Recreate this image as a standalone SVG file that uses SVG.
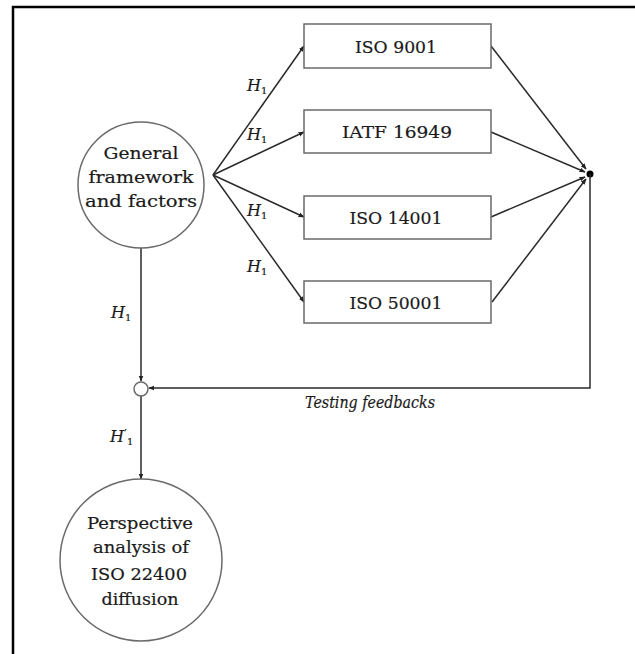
<svg xmlns="http://www.w3.org/2000/svg" width="635" height="654" viewBox="0 0 635 654">
<style>
.frame{stroke:#000;stroke-width:2.5;fill:none}
.node{fill:#fff;stroke:#6a6a6a;stroke-width:1.5}
.lbl{font-family:"DejaVu Serif","Liberation Serif",serif;font-size:17.5px;fill:#1a1a1a;stroke:#1a1a1a;stroke-width:0.2;text-anchor:middle}
.h{font-family:"DejaVu Serif","Liberation Serif",serif;font-style:italic;font-size:16px;fill:#1a1a1a;stroke:#1a1a1a;stroke-width:0.2}
.sub{font-size:10px;font-style:normal}
.pr{font-size:13px;font-style:normal}
.con{stroke:#2a2a2a;stroke-width:1.5;fill:none}
.ar{marker-end:url(#ah)}
</style>
<defs>
<marker id="ah" viewBox="0 0 10 10" refX="9" refY="5" markerWidth="6" markerHeight="6" orient="auto" markerUnits="userSpaceOnUse">
<path d="M0,1 L10,5 L0,9 z" fill="#222"/>
</marker>
</defs>
<rect width="635" height="654" fill="#fff"/>
<path class="frame" d="M13,654 V7 H635"/>
<g id="connectors">
<line class="con ar" x1="213" y1="175" x2="304" y2="46"/>
<line class="con ar" x1="213" y1="175" x2="304" y2="132"/>
<line class="con ar" x1="213" y1="175" x2="304" y2="217"/>
<line class="con ar" x1="213" y1="175" x2="304" y2="302"/>
<line class="con ar" x1="491" y1="46" x2="586" y2="169"/>
<line class="con ar" x1="491" y1="132" x2="585" y2="172"/>
<line class="con ar" x1="491" y1="217" x2="585" y2="177"/>
<line class="con ar" x1="492" y1="302" x2="586" y2="179"/>
<circle cx="590" cy="174" r="3.5" fill="#000"/>
<path class="con ar" d="M590,174 V388 H149"/>
<line class="con ar" x1="141" y1="248" x2="141" y2="381"/>
<line class="con ar" x1="141" y1="396" x2="141" y2="479"/>
<text class="h" x="247" y="91">H<tspan class="sub" dy="3">1</tspan></text>
<text class="h" x="247" y="140">H<tspan class="sub" dy="3">1</tspan></text>
<text class="h" x="247" y="216">H<tspan class="sub" dy="3">1</tspan></text>
<text class="h" x="247" y="272">H<tspan class="sub" dy="3">1</tspan></text>
<text class="h" x="111" y="318">H<tspan class="sub" dy="3">1</tspan></text>
<text class="h" x="110" y="442">H<tspan class="pr" dy="-3">′</tspan><tspan class="sub" dy="6">1</tspan></text>
<text class="h" x="305" y="408" font-size="13" textLength="130" lengthAdjust="spacingAndGlyphs">Testing feedbacks</text>
</g>
<g id="general">
<circle class="node" cx="141" cy="185" r="63"/>
<text class="lbl" x="141" y="159" textLength="75" lengthAdjust="spacingAndGlyphs">General</text>
<text class="lbl" x="141" y="183" textLength="105" lengthAdjust="spacingAndGlyphs">framework</text>
<text class="lbl" x="141" y="207" textLength="112" lengthAdjust="spacingAndGlyphs">and factors</text>
</g>
<g id="iso9001">
<rect class="node" x="304" y="24" width="187" height="44"/>
<text class="lbl" x="396" y="53" textLength="82" lengthAdjust="spacingAndGlyphs">ISO 9001</text>
</g>
<g id="iatf16949">
<rect class="node" x="304" y="110" width="187" height="43"/>
<text class="lbl" x="397" y="138" textLength="110" lengthAdjust="spacingAndGlyphs">IATF 16949</text>
</g>
<g id="iso14001">
<rect class="node" x="304" y="196" width="187" height="43"/>
<text class="lbl" x="396" y="224" textLength="93" lengthAdjust="spacingAndGlyphs">ISO 14001</text>
</g>
<g id="iso50001">
<rect class="node" x="304" y="281" width="187" height="42"/>
<text class="lbl" x="396" y="309" textLength="93" lengthAdjust="spacingAndGlyphs">ISO 50001</text>
</g>
<g id="junction">
<circle class="node" cx="141" cy="389" r="7" stroke="#333"/>
</g>
<g id="perspective">
<circle class="node" cx="141" cy="560" r="81"/>
<text class="lbl" x="140" y="529" textLength="106" lengthAdjust="spacingAndGlyphs">Perspective</text>
<text class="lbl" x="141" y="553" textLength="96" lengthAdjust="spacingAndGlyphs">analysis of</text>
<text class="lbl" x="139" y="580" textLength="96" lengthAdjust="spacingAndGlyphs">ISO 22400</text>
<text class="lbl" x="140" y="605" textLength="77" lengthAdjust="spacingAndGlyphs">diffusion</text>
</g>
</svg>
